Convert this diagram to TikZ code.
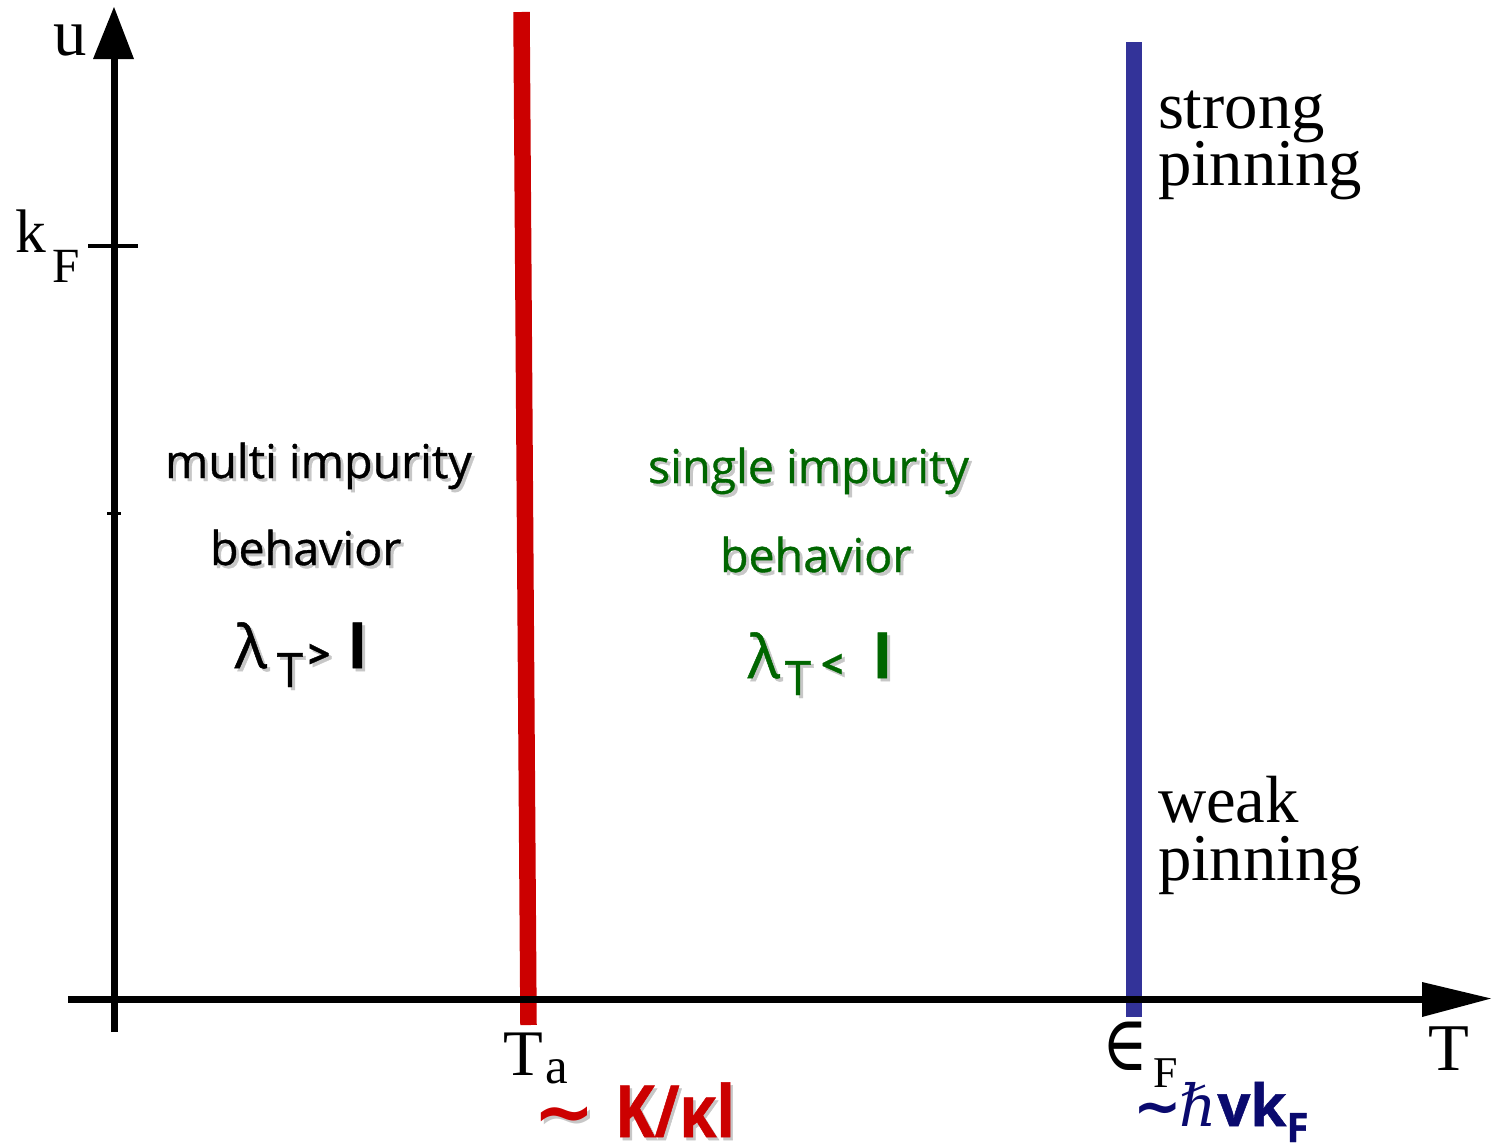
\documentclass[tikz,border=0pt]{standalone}
\usepackage{fontspec}
\setmainfont{Liberation Serif}
\newfontfamily\comic[FakeBold=0.8]{Open Sans}
\newfontfamily\djv{DejaVu Sans}
\newfontfamily\djvs{DejaVu Serif}
\usepackage{graphicx}
\definecolor{redline}{RGB}{204,0,0}
\definecolor{blueline}{RGB}{51,51,153}
\definecolor{grn}{RGB}{0,102,0}
\definecolor{navy}{RGB}{10,10,110}
\newcommand{\shd}[1]{\makebox[0pt][l]{\hspace{0.06cm}\raisebox{-0.06cm}{\color{black!22}#1}}#1}
\newcommand{\fs}[1]{\fontsize{#1}{#1}\selectfont}
\begin{document}
\begin{tikzpicture}[x=0.02cm,y=-0.02cm,
  lbl/.style={inner sep=0pt, outer sep=0pt, anchor=base west},
  axisline/.style={line width=0.14cm, black},
  tickline/.style={line width=0.08cm, black},
  phase/.style={line width=0.33cm},
  comictxt/.style={lbl, font=\comic\fs{26.5}}]
\useasboundingbox (0,0) rectangle (1493,1146);

% phase boundaries
\coordinate (rtop) at (521.5,12);
\coordinate (rbot) at (528.5,1025);
\coordinate (btop) at (1134,42);
\coordinate (bbot) at (1134,1017);
\draw[phase, redline] (rtop) -- (rbot);
\draw[phase, blueline] (btop) -- (bbot);

% axes
\coordinate (xs) at (68,999);
\coordinate (xe) at (1440,999);
\coordinate (ys) at (114,1032);
\coordinate (ye) at (114,45);
\draw[axisline] (xs) -- (xe);
\fill[black] (1422,982) -- (1491,998.5) -- (1422,1017) -- cycle;
\draw[axisline] (ys) -- (ye);
\fill[black] (93,59) -- (114,7) -- (134,59) -- cycle;

% ticks
\coordinate (kt1) at (88,246);
\coordinate (kt2) at (138,246);
\draw[tickline] (kt1) -- (kt2);
\coordinate (mt1) at (107,513);
\coordinate (mt2) at (121,513);
\draw[line width=0.06cm] (mt1) -- (mt2);

% axis labels
\node[lbl, font=\fs{38}] (u) at (53,55) {u};
\node[lbl, font=\fs{35}] (k) at (15,252) {k};
\node[lbl, font=\fs{28}] (kF) at (52,282) {F};
\node[lbl, font=\fs{38}] (T) at (1428,1070) {T};
\node[lbl, font=\fs{37}] (Ta) at (503,1075) {T};
\node[lbl, font=\fs{29}] (Tasub) at (545,1083) {a};
\node[lbl, font=\djvs\fs{44}] (eps) at (1102,1070) {\scalebox{0.8}[1]{∈}};
\node[lbl, font=\fs{25}] (epsF) at (1153,1087) {F};

% right labels
\node[lbl, font=\fs{38}] (strong) at (1158,128) {strong};
\node[lbl, font=\fs{38}] (pin1) at (1158,185) {pinning};
\node[lbl, font=\fs{38}] (weak) at (1158,822) {weak};
\node[lbl, font=\fs{38}] (pin2) at (1158,880) {pinning};

% left region
\node[comictxt] (multi) at (165,478) {\shd{multi impurity}};
\node[comictxt] (beh1) at (210,565) {\shd{behavior}};
\node[lbl, font=\comic\fs{34}] (lam1) at (235,668)
  {\shd{λ}\hspace{0.2cm}\raisebox{-0.38cm}{\fs{27}\shd{T}}\hspace{0.1cm}{\bfseries\fs{22}\shd{>}}\hspace{0.36cm}{\bfseries\shd{l}}};

% middle region
\node[comictxt, text=grn] (single) at (648,483) {\shd{single impurity}};
\node[comictxt, text=grn] (beh2) at (720,572) {\shd{behavior}};
\node[lbl, font=\comic\fs{34}, text=grn] (lam2) at (748,678)
  {\shd{λ}\hspace{0.1cm}\raisebox{-0.34cm}{\fs{27}\shd{T}}\hspace{0.2cm}{\bfseries\fs{22}\shd{<}}\hspace{0.6cm}{\bfseries\shd{l}}};

% bottom formulas
\node[lbl, font=\djv\bfseries\fs{42}, text=redline] (tilde1) at (533,1137) {\shd{∼}};
\node[lbl, font=\comic\bfseries\fs{41}, text=redline] (Kk) at (615,1137) {\scalebox{0.83}[1]{\shd{K/κl}}};
\node[lbl, font=\fs{33}, text=navy] (hv) at (1133,1126)
  {{\djv\bfseries ∼}\hspace{-0.05cm}{\djvs\itshape ℏ}\hspace{0.02cm}{\comic\bfseries vk}\raisebox{-0.32cm}{\comic\bfseries\fs{23}F}};
\end{tikzpicture}
\end{document}
